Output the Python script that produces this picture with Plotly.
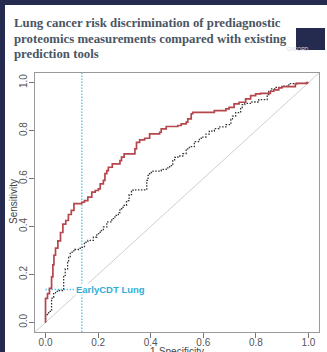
import plotly.graph_objects as go

# ROC curve of the proteomics model (step corners: fpr, tpr)
prot_fpr = [0, 0.0075, 0.015, 0.023, 0.028, 0.032, 0.038, 0.047, 0.057, 0.066,
            0.077, 0.087, 0.098, 0.108, 0.138, 0.148, 0.161, 0.176, 0.189, 0.201,
            0.208, 0.22, 0.226, 0.233, 0.239, 0.254, 0.283, 0.289, 0.299, 0.340,
            0.346, 0.352, 0.358, 0.377, 0.396, 0.434, 0.440, 0.459, 0.503, 0.516,
            0.535, 0.541, 0.554, 0.560, 0.642, 0.648, 0.686, 0.698, 0.717, 0.736,
            0.761, 0.780, 0.799, 0.818, 0.855, 0.868, 0.887, 0.899, 0.950, 0.956,
            0.994, 1.0]
prot_tpr = [0, 0.10, 0.12, 0.142, 0.19, 0.24, 0.28, 0.31, 0.34, 0.375,
            0.41, 0.425, 0.45, 0.467, 0.495, 0.501, 0.508, 0.522, 0.543, 0.55,
            0.557, 0.578, 0.592, 0.62, 0.633, 0.647, 0.661, 0.675, 0.689, 0.703,
            0.724, 0.751, 0.751, 0.761, 0.768, 0.786, 0.793, 0.807, 0.817, 0.821,
            0.828, 0.835, 0.849, 0.87, 0.876, 0.883, 0.883, 0.89, 0.897, 0.911,
            0.918, 0.932, 0.946, 0.953, 0.955, 0.964, 0.97, 0.978, 0.983, 0.995,
            0.997, 1.0]

# ROC curve of the existing risk model
risk_fpr = [0, 0.012, 0.023, 0.025, 0.031, 0.038, 0.048, 0.069, 0.069, 0.075,
            0.084, 0.088, 0.094, 0.101, 0.111, 0.132, 0.148, 0.154, 0.161, 0.182,
            0.195, 0.208, 0.22, 0.233, 0.252, 0.264, 0.277, 0.283, 0.295, 0.308,
            0.318, 0.327, 0.333, 0.346, 0.385, 0.39, 0.396, 0.409, 0.44, 0.459,
            0.472, 0.484, 0.491, 0.503, 0.522, 0.535, 0.547, 0.566, 0.585, 0.592,
            0.61, 0.623, 0.642, 0.66, 0.686, 0.705, 0.711, 0.723, 0.742, 0.748,
            0.758, 0.785, 0.811, 0.843, 0.849, 0.857, 0.874, 0.899, 0.925, 0.95,
            0.994, 1.0]
risk_tpr = [0, 0.033, 0.046, 0.092, 0.104, 0.123, 0.129, 0.133, 0.192, 0.196,
            0.223, 0.25, 0.271, 0.292, 0.298, 0.304, 0.313, 0.329, 0.338, 0.342,
            0.355, 0.37, 0.383, 0.398, 0.419, 0.433, 0.446, 0.458, 0.474, 0.488,
            0.508, 0.533, 0.546, 0.553, 0.553, 0.592, 0.613, 0.625, 0.631, 0.638,
            0.644, 0.654, 0.675, 0.688, 0.694, 0.704, 0.724, 0.733, 0.754, 0.767,
            0.773, 0.785, 0.798, 0.808, 0.815, 0.825, 0.846, 0.86, 0.875, 0.896,
            0.908, 0.913, 0.919, 0.929, 0.95, 0.963, 0.974, 0.98, 0.985, 0.996,
            0.997, 1.0]

# EarlyCDT Lung operating point
cdt_fpr = 0.138
cdt_tpr = 0.1375
cdt_label = "EarlyCDT Lung"

tick_vals = [0.0, 0.2, 0.4, 0.6, 0.8, 1.0]
tick_text = ["0.0", "0.2", "0.4", "0.6", "0.8", "1.0"]
title_lines = ["Lung cancer risk discrimination of prediagnostic",
               "proteomics measurements compared with existing",
               "prediction tools"]

W, H = 327, 352
L, R, T, B = 35, 8, 73, 20
PW, PH = W - L - R, H - T - B


def fx(p):
    return (p - L) / PW


def fy(p):
    return 1 - (p - T) / PH


NAVY = "#252b4e"
FRAME = "#9a9a9a"
CYAN = "#55c8f0"
AXFONT = dict(family="Liberation Sans, Arial", size=10, color="#444444")

fig = go.Figure()

fig.add_trace(go.Scatter(x=[-0.04, 1.04], y=[-0.04, 1.04], mode="lines",
                         line=dict(color="#cfcfcf", width=1), hoverinfo="skip"))
fig.add_trace(go.Scatter(x=[cdt_fpr, cdt_fpr], y=[-0.04, 1.04], mode="lines",
                         line=dict(color=CYAN, width=1.4, dash="1.5px,1.5px"),
                         hoverinfo="skip"))
fig.add_trace(go.Scatter(x=[0, cdt_fpr], y=[cdt_tpr, cdt_tpr], mode="lines",
                         line=dict(color=CYAN, width=1.4, dash="1.5px,1.5px"),
                         hoverinfo="skip"))
fig.add_trace(go.Scatter(x=risk_fpr, y=risk_tpr, mode="lines",
                         line=dict(color="#333333", width=1.3, dash="1.5px,1.5px", shape="vh")))
fig.add_trace(go.Scatter(x=prot_fpr, y=prot_tpr, mode="lines",
                         line=dict(color="#b5474c", width=1.7, shape="vh")))

axis_common = dict(
    range=[-0.04, 1.04], tickvals=tick_vals, ticktext=tick_text,
    showgrid=False, zeroline=False, showline=True, mirror=True,
    linecolor=FRAME, linewidth=1, ticks="outside", ticklen=5,
    tickcolor="#777777", tickwidth=1, automargin=False,
    tickfont=dict(family="Liberation Sans, Arial", size=10, color="#555555"),
)
fig.update_xaxes(**axis_common, ticklabelstandoff=-4)
fig.update_yaxes(**axis_common, tickangle=-90, ticklabelstandoff=-2)

shapes = [
    # white card
    dict(type="rect", xref="paper", yref="paper", x0=fx(5), x1=fx(W + 2),
         y0=fy(H + 2), y1=fy(5), fillcolor="white", line_width=0, layer="below"),
    # publisher logo
    dict(type="rect", xref="paper", yref="paper", x0=fx(296), x1=fx(325),
         y0=fy(50), y1=fy(28), fillcolor=NAVY, line_width=0, layer="above"),
]

annotations = []
for i, line in enumerate(title_lines):
    annotations.append(dict(
        text="<b>" + line + "</b>", x=fx(12), y=fy(23 + 15.6 * i),
        xref="paper", yref="paper", xanchor="left", yanchor="middle",
        showarrow=False,
        font=dict(family="Liberation Serif, DejaVu Serif", size=12.8, color="#4a5563"),
    ))
annotations += [
    dict(text="OXFORD", x=fx(310.5), y=fy(44.5), xref="paper", yref="paper",
         showarrow=False, font=dict(family="Liberation Sans", size=5, color="#d4d8ea")),
    dict(text="Sensitivity", x=fx(13), y=fy(202), xref="paper", yref="paper",
         xanchor="center", yanchor="middle", textangle=-90, showarrow=False, font=AXFONT),
    dict(text="1-Specificity", x=0.5, y=fy(351), xref="paper", yref="paper",
         xanchor="center", yanchor="middle", showarrow=False, font=AXFONT),
    dict(text="<b>" + cdt_label + "</b>", x=0.113, y=cdt_tpr, xref="x", yref="y",
         xanchor="left", yanchor="middle", showarrow=False, bgcolor="white",
         borderpad=0,
         font=dict(family="Liberation Sans, Arial", size=9.5, color="#2eaed9")),
]

fig.update_layout(
    width=W, height=H, margin=dict(l=L, r=R, t=T, b=B, autoexpand=False),
    paper_bgcolor=NAVY, plot_bgcolor="white", showlegend=False,
    shapes=shapes, annotations=annotations,
)

fig.write_html("out.html", config={"displayModeBar": False})
